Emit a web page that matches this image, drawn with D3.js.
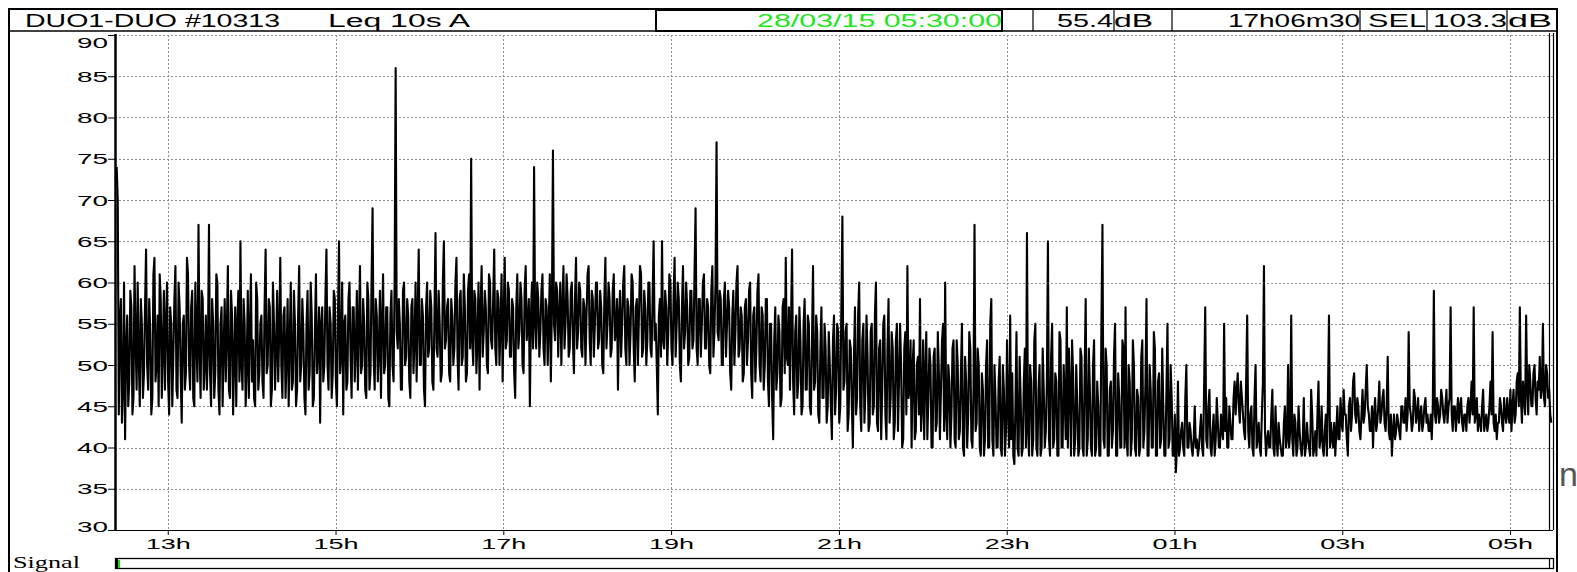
<!DOCTYPE html>
<html>
<head>
<meta charset="utf-8">
<script src="https://cdn.jsdelivr.net/npm/d3@7"></script>
<style>
  html, body { margin: 0; padding: 0; background: #fff; }
  svg { display: block; }
</style>
</head>
<body>
<svg id="chart"></svg>
<script>
// session and axis setup
const SESSION_START = "2015-03-27 12:23:30";
const SESSION_END = "2015-03-28 05:30:00";
const STEP_SECONDS = 45;

const Y_TICKS = [30, 35, 40, 45, 50, 55, 60, 65, 70, 75, 80, 85, 90];
const X_TICKS = [
    "2015-03-27 13:00:00", "2015-03-27 15:00:00", "2015-03-27 17:00:00",
    "2015-03-27 19:00:00", "2015-03-27 21:00:00", "2015-03-27 23:00:00",
    "2015-03-28 01:00:00", "2015-03-28 03:00:00", "2015-03-28 05:00:00"
];

// header fields
const HEADER_TITLE = "DUO1-DUO #10313";
const HEADER_MODE = "Leq 10s  A";
const CURSOR_TIME = "28/03/15 05:30:00";
const CURSOR_LEVEL = "55.4";
const DURATION = "17h06m30";
const SEL_LEVEL = "103.3";
const UNIT = "dB";

// Leq values (dB), one every STEP_SECONDS
const LEQ = [
    74,70,44,55,58,43,47,60,41,52, 56,45,48,59,57,44,46,62,53,47, 60,51,45,58,55,46,49,57,64,50, 47,58,54,44,46,61,63,48,50,56,
    45,61,58,46,52,59,47,55,60,48, 44,57,55,45,51,58,62,47,46,60, 57,49,43,55,56,47,49,63,61,50, 47,57,59,46,45,60,53,48,67,52,
    46,59,58,47,50,56,47,52,67,49, 45,58,55,46,49,61,60,47,44,55, 57,45,52,58,48,54,62,47,46,59, 56,44,51,57,45,55,59,48,65,50,
    47,58,55,45,50,59,46,54,61,48, 53,46,45,60,58,47,49,55,56,48, 46,57,64,49,50,58,57,45,47,60, 55,47,52,59,48,54,63,50,46,56,
    57,46,51,58,45,53,60,47,48,59, 55,45,47,56,62,48,50,58,54,46, 44,55,59,47,49,60,56,45,46,54, 61,49,52,57,43,55,57,48,50,58,
    64,50,47,57,55,46,49,59,58,48, 45,56,65,49,51,60,44,55,56,47, 48,58,60,51,46,57,57,48,52,59, 47,55,62,49,50,58,55,47,46,60,
    58,47,49,60,69,51,47,58,56,48, 52,59,46,55,61,49,50,57,57,46, 45,56,59,50,48,60,86,54,52,58, 55,47,47,59,60,50,51,58,56,48,
    46,57,58,49,53,60,48,56,64,50, 50,58,56,47,45,57,60,51,52,59, 57,48,47,56,66,52,51,59,55,48, 49,60,65,52,53,57,58,49,48,58,
    56,50,52,60,63,51,47,58,59,50, 51,61,57,48,49,59,61,52,75,53, 50,59,58,49,53,60,47,57,62,51, 54,59,57,50,49,61,60,53,52,58,
    64,52,50,59,58,50,55,61,48,56, 63,52,53,60,59,51,51,58,57,49, 46,57,61,52,54,60,58,50,49,59, 62,53,55,58,45,56,60,52,74,55,
    52,60,58,51,54,59,61,52,50,58, 57,50,55,61,48,57,76,55,53,60, 59,51,56,60,50,57,62,52,55,61, 58,51,52,59,60,53,49,58,63,52,
    54,60,59,52,51,58,57,50,56,61, 62,53,50,59,58,51,55,60,60,52, 53,59,57,50,49,58,63,52,55,60, 58,51,52,59,61,53,54,58,47,56,
    59,51,55,60,62,52,50,58,57,50, 54,61,60,52,48,57,58,50,56,62, 61,51,52,59,57,50,53,60,60,52, 51,58,65,53,55,50,44,56,58,51,
    65,53,52,59,57,50,54,61,60,52, 50,58,63,51,55,60,58,50,48,57, 62,52,54,60,57,50,51,59,59,52, 53,61,69,52,50,58,58,51,55,60,
    61,52,52,58,57,50,49,59,62,51, 54,60,77,54,53,59,58,50,50,58, 60,51,55,59,57,49,47,56,59,50, 54,60,62,51,52,57,56,48,49,57,
    58,50,53,59,60,49,46,56,57,48, 52,59,61,50,48,57,56,47,50,58, 58,48,45,55,55,46,41,53,57,47, 49,56,54,45,46,57,58,49,63,51,
    50,57,47,55,64,48,44,54,56,46, 48,57,53,44,45,55,58,47,47,56, 55,45,44,53,62,47,48,56,54,44, 43,52,57,46,46,55,52,43,45,54,
    50,45,41,53,56,44,47,55,54,43, 45,57,68,47,48,54,55,42,44,53, 52,45,40,51,57,44,46,56,60,45, 42,53,55,43,47,56,51,42,43,54,
    55,44,45,56,60,43,42,52,53,41, 47,55,56,44,41,52,58,43,46,54, 52,41,43,53,55,42,48,55,50,40, 41,52,54,44,62,46,47,53,40,50,
    53,41,42,50,51,44,58,42,45,53, 41,49,54,41,46,52,50,40,40,51, 52,42,43,54,49,41,47,53,55,42, 60,44,41,50,48,40,44,52,53,41,
    40,53,50,41,42,49,55,40,39,51, 48,40,44,54,52,41,40,47,67,42, 43,52,50,40,39,49,47,39,41,50, 53,40,40,55,58,41,39,50,46,40,
    40,48,51,40,39,50,47,39,42,53, 44,40,56,41,49,39,38,45,54,40, 39,51,46,39,40,48,52,40,66,42, 39,50,48,39,41,53,55,40,39,47,
    50,39,40,52,47,40,42,48,65,41, 39,51,55,40,41,49,48,39,39,54, 53,40,40,50,46,41,57,40,52,47, 39,53,49,39,41,50,45,39,40,52,
    51,40,39,49,58,39,41,52,47,40, 39,50,53,39,40,48,45,39,39,55, 67,41,40,52,50,39,39,47,48,40, 42,51,55,39,39,49,46,40,40,53,
    52,40,57,41,39,50,48,39,41,53, 50,40,39,47,46,39,40,51,53,40, 42,48,58,39,39,50,47,40,40,54, 52,39,39,48,49,40,41,52,45,39,
    39,47,55,40,41,50,46,39,39,44, 37,40,48,39,40,42,43,40,39,46, 50,40,40,43,42,40,39,41,45,40, 41,39,40,42,44,40,39,48,57,41,
    40,45,47,40,39,42,44,39,41,46, 43,40,40,44,42,41,55,42,46,40, 40,45,43,41,41,46,48,44,47,49, 45,43,48,46,44,42,41,48,56,42,
    40,44,45,40,39,46,50,40,41,43, 40,39,44,48,62,42,39,41,42,40, 40,44,47,40,39,45,41,39,43,41, 40,39,39,43,45,40,41,50,40,42,
    56,41,39,44,43,39,40,45,42,40, 39,41,46,39,40,43,41,40,39,47, 44,39,40,42,39,44,48,40,41,45, 40,39,42,44,39,46,56,40,43,41,
    40,43,39,42,45,41,41,46,43,42, 47,44,44,41,39,45,46,42,44,48, 49,44,43,46,45,42,41,44,47,43, 44,47,50,45,44,42,42,45,40,44,
    46,42,43,45,48,43,44,46,47,43, 42,45,51,42,41,44,39,42,44,41, 42,44,43,42,41,45,45,43,43,46, 42,44,54,45,44,42,43,47,46,43,
    44,46,42,44,45,42,43,45,46,43, 44,42,42,44,41,45,59,44,43,46, 45,43,44,47,46,44,43,45,47,43, 45,46,57,44,42,45,45,42,44,46,
    43,45,46,43,42,44,44,42,45,46, 43,45,48,44,57,43,44,46,42,44, 43,42,45,47,42,43,44,42,43,45, 48,44,54,43,42,44,41,43,43,46,
    45,43,42,46,44,43,46,44,43,47, 42,45,47,43,44,48,49,45,57,46, 43,48,46,44,56,47,44,50,48,45, 45,49,50,46,44,48,47,51,46,47,
    55,46,45,50,49,46,47,44,43
];

const W = 1577, H = 572;
const plot = { left: 115, right: 1553, top: 35, bottom: 530, x0: 116.7, x1: 1552 };
const SANS = "'Liberation Sans', Arial, sans-serif";

const parse = d3.timeParse("%Y-%m-%d %H:%M:%S");
const start = parse(SESSION_START);
const points = LEQ.map((v, i) => ({ t: new Date(start.getTime() + i * STEP_SECONDS * 1000), v }));

const x = d3.scaleTime()
    .domain([start, parse(SESSION_END)])
    .range([plot.x0, plot.x1]);

const y = d3.scaleLinear()
    .domain([30, 90])
    .range([plot.bottom, plot.top]);

const svg = d3.select("#chart")
    .attr("width", W)
    .attr("height", H)
    .attr("viewBox", [0, 0, W, H]);

// outer frame
svg.append("rect")
    .attr("x", 9).attr("y", 9)
    .attr("width", 1548).attr("height", H + 10)
    .attr("fill", "none").attr("stroke", "#000").attr("stroke-width", 2);

// header strip
svg.append("line")
    .attr("x1", 9).attr("x2", 1557).attr("y1", 31).attr("y2", 31)
    .attr("stroke", "#000").attr("stroke-width", 1.5);

[1002, 1033, 1114, 1172, 1360, 1427, 1507].forEach(xx => {
    svg.append("line")
        .attr("x1", xx).attr("x2", xx).attr("y1", 9).attr("y2", 31)
        .attr("stroke", "#000").attr("stroke-width", 1.2);
});
svg.append("rect")
    .attr("x", 656).attr("y", 10).attr("width", 346).attr("height", 21)
    .attr("fill", "none").attr("stroke", "#000").attr("stroke-width", 2);

const headerCells = [
    { text: HEADER_TITLE, x: 25, w: 255 },
    { text: HEADER_MODE, x: 328, w: 142 },
    { text: CURSOR_TIME, x: 757, w: 245, fill: "#22e622" },
    { text: CURSOR_LEVEL, x: 1057, w: 56 },
    { text: UNIT, x: 1114, w: 39 },
    { text: DURATION, x: 1228, w: 132 },
    { text: "SEL", x: 1368, w: 58 },
    { text: SEL_LEVEL, x: 1433, w: 74 },
    { text: UNIT, x: 1508, w: 44 }
];

svg.append("g")
    .style("font-family", SANS)
    .style("font-size", "18px")
    .style("white-space", "pre")
    .selectAll("text")
    .data(headerCells)
    .join("text")
    .attr("x", d => d.x)
    .attr("y", 27)
    .attr("fill", d => d.fill || "#000")
    .attr("textLength", d => d.w)
    .attr("lengthAdjust", "spacingAndGlyphs")
    .text(d => d.text);

// grid
const grid = svg.append("g")
    .attr("stroke", "#8c8c8c")
    .attr("stroke-width", 1)
    .attr("stroke-dasharray", "2,2");

grid.selectAll(".hg")
    .data(Y_TICKS.filter(d => d > 30))
    .join("line")
    .attr("x1", plot.left).attr("x2", plot.right)
    .attr("y1", d => Math.round(y(d)) + 0.5).attr("y2", d => Math.round(y(d)) + 0.5);

grid.selectAll(".vg")
    .data(X_TICKS.map(parse))
    .join("line")
    .attr("x1", d => Math.round(x(d)) + 0.5).attr("x2", d => Math.round(x(d)) + 0.5)
    .attr("y1", plot.top).attr("y2", plot.bottom);

// axes
const yAxis = svg.append("g")
    .attr("transform", `translate(${plot.left},0)`)
    .call(d3.axisLeft(y).tickValues(Y_TICKS).tickSize(7).tickPadding(0))
    .call(g => g.select(".domain").remove())
    .attr("color", "#000")
    .attr("font-family", SANS)
    .attr("font-size", 14);

yAxis.selectAll(".tick text")
    .attr("x", -7)
    .attr("dy", d => d === 90 ? 12 : d === 30 ? 1 : 5)
    .attr("textLength", 31)
    .attr("lengthAdjust", "spacingAndGlyphs");

const xAxis = svg.append("g")
    .attr("transform", `translate(0,${plot.bottom})`)
    .call(d3.axisBottom(x).tickValues(X_TICKS.map(parse)).tickFormat(d3.timeFormat("%Hh")).tickSize(5).tickSizeOuter(0))
    .call(g => g.select(".domain").remove())
    .attr("color", "#000")
    .attr("font-family", SANS)
    .attr("font-size", 14);

xAxis.selectAll(".tick text")
    .attr("y", 19)
    .attr("dy", 0)
    .attr("textLength", 45)
    .attr("lengthAdjust", "spacingAndGlyphs");

// the Leq trace
const line = d3.line()
    .x(d => x(d.t))
    .y(d => y(d.v));

svg.append("path")
    .datum(points)
    .attr("fill", "none")
    .attr("stroke", "#000")
    .attr("stroke-width", 2.1)
    .attr("stroke-linejoin", "round")
    .attr("d", line);

// plot frame: left axis, bottom axis, cursor and right edge
const frame = svg.append("g").attr("stroke", "#000");
frame.append("line")
    .attr("x1", plot.left + 0.5).attr("x2", plot.left + 0.5)
    .attr("y1", plot.top - 1).attr("y2", plot.bottom)
    .attr("stroke-width", 2.5);
frame.append("line")
    .attr("x1", plot.left).attr("x2", plot.right)
    .attr("y1", plot.bottom + 0.5).attr("y2", plot.bottom + 0.5)
    .attr("stroke-width", 1.2);
frame.append("line")
    .attr("x1", 1549.5).attr("x2", 1549.5)
    .attr("y1", 33).attr("y2", plot.bottom)
    .attr("stroke-width", 1.2);
frame.append("line")
    .attr("x1", plot.right + 0.5).attr("x2", plot.right + 0.5)
    .attr("y1", 33).attr("y2", plot.bottom)
    .attr("stroke-width", 1.2);

// signal strip
svg.append("text")
    .attr("x", 13).attr("y", 568)
    .attr("font-family", "'Liberation Serif', 'Times New Roman', serif")
    .attr("font-size", 17)
    .attr("textLength", 67)
    .attr("lengthAdjust", "spacingAndGlyphs")
    .text("Signal");

svg.append("rect")
    .attr("x", plot.left + 0.5).attr("y", 558.5)
    .attr("width", plot.right - plot.left).attr("height", 10)
    .attr("fill", "none").attr("stroke", "#000").attr("stroke-width", 1.3);
svg.append("rect")
    .attr("x", 116).attr("y", 559).attr("width", 2).attr("height", 9).attr("fill", "#000");
svg.append("rect")
    .attr("x", 118).attr("y", 560).attr("width", 2).attr("height", 8).attr("fill", "#1ed81e");
svg.append("line")
    .attr("x1", 1549.5).attr("x2", 1549.5).attr("y1", 558).attr("y2", 569)
    .attr("stroke", "#000").attr("stroke-width", 1.2);

// stray glyph at the right edge
svg.append("text")
    .attr("x", 1559).attr("y", 486)
    .attr("font-family", SANS)
    .attr("font-size", 34)
    .attr("fill", "#555")
    .text("n");
</script>
</body>
</html>
